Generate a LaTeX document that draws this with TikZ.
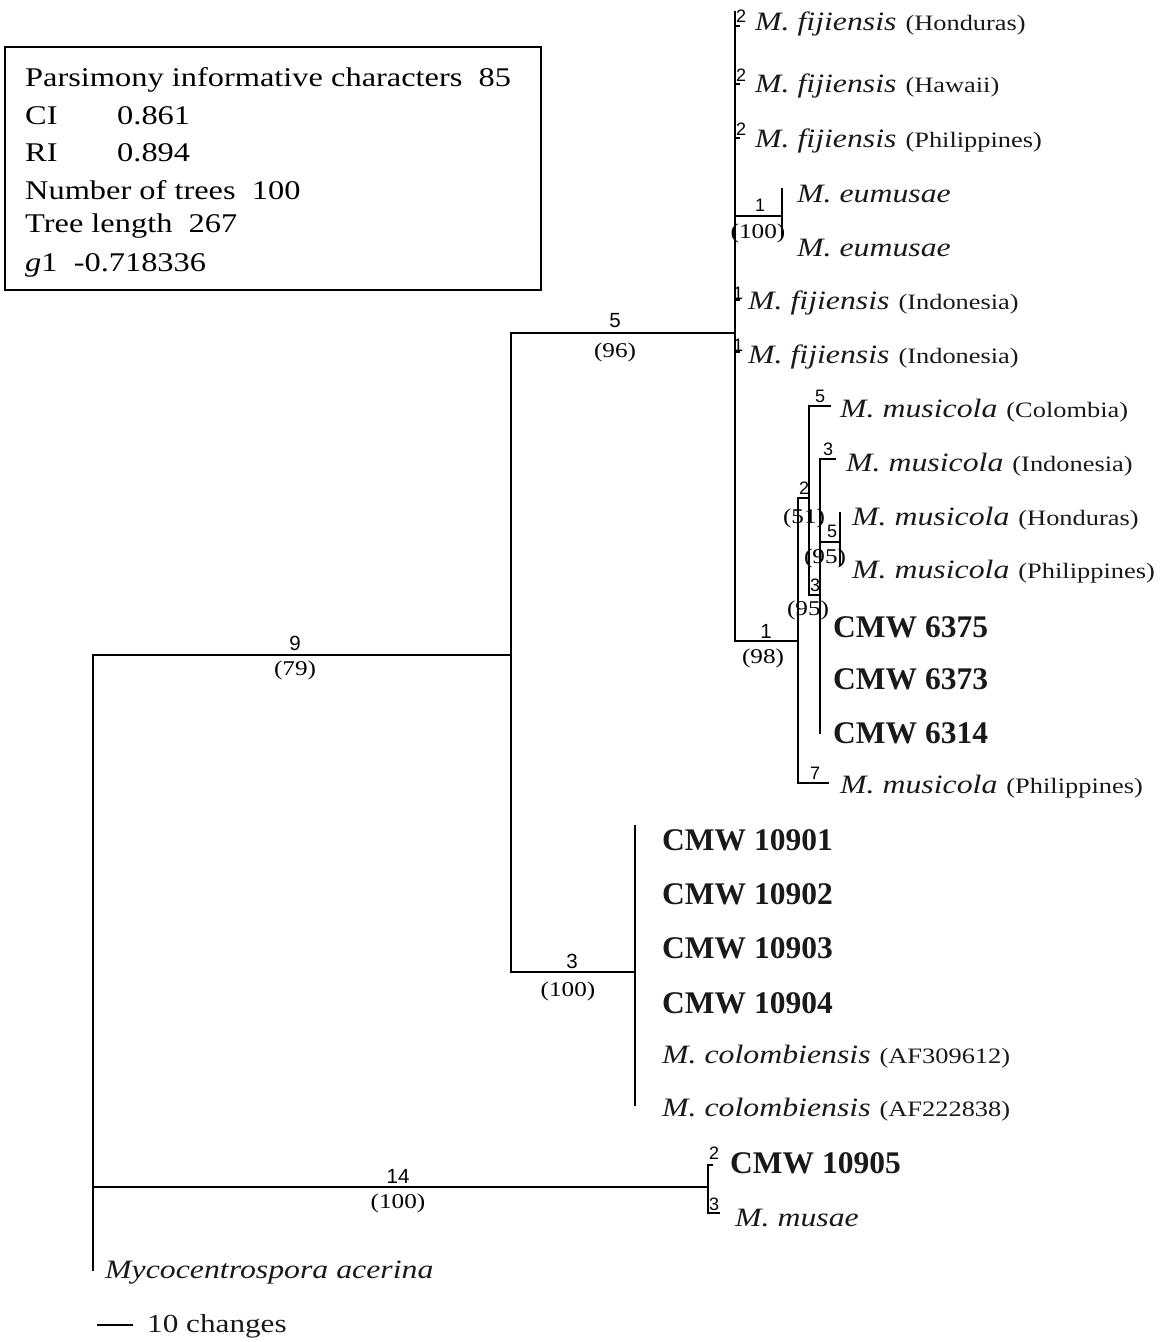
\documentclass[tikz,border=0pt]{standalone}
\usepackage{fontspec}
\setmainfont{Liberation Serif}
\newfontfamily\wide{Liberation Serif}[FakeStretch=1.2]
\newfontfamily\numf{Liberation Sans}
\newcommand\myspn[1]{{\wide\itshape\fontsize{26.5}{30}\selectfont #1}}
\newcommand\myloc[1]{\hspace{9pt}{\wide\fontsize{22}{26}\selectfont #1}}
\newcommand\mycmw[1]{{\bfseries\fontsize{31.5}{34}\selectfont #1}}
\tikzset{
  br/.style={line width=1.4pt, line cap=rect},
  lab/.style={anchor=west, inner sep=0pt, text=black!90},
  cnt/.style={inner sep=0pt, font=\numf\fontsize{20.5}{22}\selectfont},
  cnts/.style={inner sep=0pt, font=\numf\fontsize{18}{19}\selectfont},
  bs/.style={inner sep=0pt, font=\wide\fontsize{21}{23}\selectfont},
  boxt/.style={anchor=west, inner sep=0pt, font=\wide\fontsize{27}{30}\selectfont}
}
\begin{document}
\begin{tikzpicture}[x=1pt,y=-1pt]
\useasboundingbox[fill=white] (0,0) rectangle (1169,1342);

% ---------- info box ----------
\draw[line width=1.4pt] (5,47) rectangle (541,290);
\node[boxt] (b1) at (25,80) {Parsimony informative characters\ \ 85};
\node[boxt] (b2) at (25,116) {CI};
\node[boxt] (b2v) at (117,116) {0.861};
\node[boxt] (b3) at (25,153) {RI};
\node[boxt] (b3v) at (117,153) {0.894};
\node[boxt] (b4) at (25,190) {Number of trees\ \ 100};
\node[boxt] (b5) at (25,226) {Tree length\ \ 267};
\node[boxt] (b6) at (25,265) {\textit{g}1\ \ -0.718336};

% ---------- tree coordinates ----------
\coordinate (R1) at (93,655);
\coordinate (R2) at (93,1187);
\coordinate (Rout) at (93,1270);
\coordinate (G0) at (511,655);
\coordinate (G1) at (511,333);
\coordinate (G2) at (511,972);
\coordinate (F0) at (735,333);
\coordinate (Ftop) at (735,12);
\coordinate (Fbot) at (735,641);
\coordinate (H0) at (635,972);
\coordinate (Htop) at (635,826);
\coordinate (Hbot) at (635,1105);
\coordinate (M0) at (708,1187);
\coordinate (Mtop) at (708,1165);
\coordinate (Mbot) at (708,1213);

% root
\draw[br] (R1) -- (Rout);
\draw[br] (R1) -- (G0);
\draw[br] (R2) -- (M0);
% node G
\draw[br] (G1) -- (G2);
\draw[br] (G1) -- (F0);
\draw[br] (G2) -- (H0);
% colombiensis clade
\draw[br] (Htop) -- (Hbot);
% musae clade
\draw[br] (Mtop) -- (Mbot);
\draw[br] (Mtop) -- ++(4,0);
\draw[br] (Mbot) -- ++(11,0);

% fijiensis clade
\draw[br] (Ftop) -- (Fbot);
\coordinate (f1) at (735,26);
\coordinate (f2) at (735,84);
\coordinate (f3) at (735,138);
\coordinate (f4) at (735,300);
\coordinate (f5) at (735,352);
\foreach \c in {f1,f2,f3,f4,f5} \draw[br] (\c) -- ++(4,0);
% eumusae
\coordinate (E0) at (735,216);
\coordinate (E1) at (782,216);
\coordinate (Etop) at (782,189);
\coordinate (Ebot) at (782,236);
\draw[br] (E0) -- (E1);
\draw[br] (Etop) -- (Ebot);

% musicola clade
\coordinate (A0) at (735,641);
\coordinate (A1) at (798,641);
\coordinate (Atop) at (798,498);
\coordinate (Abot) at (798,783);
\coordinate (A7) at (828,783);
\draw[br] (A0) -- (A1);
\draw[br] (Atop) -- (Abot);
\draw[br] (Abot) -- (A7);
\coordinate (B0) at (809,498);
\coordinate (Btop) at (809,406);
\coordinate (Bbot) at (809,595);
\draw[br] (Atop) -- (B0);
\draw[br] (Btop) -- (Bbot);
\coordinate (B5) at (830,406);
\draw[br] (Btop) -- (B5);
\coordinate (C0) at (820,595);
\coordinate (Ctop) at (820,459);
\coordinate (Cbot) at (820,733);
\draw[br] (Bbot) -- (C0);
\draw[br] (Ctop) -- (Cbot);
\coordinate (C3) at (835,459);
\draw[br] (Ctop) -- (C3);
\coordinate (Cm) at (820,542);
\coordinate (D0) at (840,542);
\coordinate (Dtop) at (840,513);
\coordinate (Dbot) at (840,565);
\draw[br] (Cm) -- (D0);
\draw[br] (Dtop) -- (Dbot);

% ---------- branch labels ----------
\node[cnt] (n9) at (295,643) {9};
\node[bs] (s79) at (295,670) {(79)};
\node[cnt] (n5) at (615,321) {5};
\node[bs] (s96) at (615,352) {(96)};
\node[cnt] (n3) at (572,961) {3};
\node[bs] (s100a) at (568,991) {(100)};
\node[cnt] (n14) at (398,1176) {14};
\node[bs] (s100b) at (398,1203) {(100)};
\node[cnts] (m2) at (714,1153) {2};
\node[cnts] (m3) at (714,1204) {3};
\node[cnts] (fa) at (741,16) {2};
\node[cnts] (fb) at (741,75) {2};
\node[cnts] (fc) at (741,129) {2};
\node[cnts] (fd) at (738,293) {1};
\node[cnts] (fe) at (738,345) {1};
\node[cnts] (e1) at (760,205) {1};
\node[bs] (e100) at (758,233) {(100)};
\node[cnt] (a1) at (766,631) {1};
\node[bs] (a98) at (763,658) {(98)};
\node[cnts] (a7) at (815,773) {7};
\node[cnts] (b2n) at (804,488) {2};
\node[bs] (b51) at (804,518) {(51)};
\node[cnts] (b5n) at (820,396) {5};
\node[cnts] (c3n) at (815,585) {3};
\node[bs] (c95) at (808,610) {(95)};
\node[cnts] (c3t) at (828,449) {3};
\node[cnts] (d5n) at (832,531) {5};
\node[bs] (d95) at (825,558) {(95)};

% ---------- taxa ----------
\node[lab] (t1) at (755,24) {\myspn{M. fijiensis}\myloc{(Honduras)}};
\node[lab] (t2) at (755,86) {\myspn{M. fijiensis}\myloc{(Hawaii)}};
\node[lab] (t3) at (755,141) {\myspn{M. fijiensis}\myloc{(Philippines)}};
\node[lab] (t4) at (797,194) {\myspn{M. eumusae}};
\node[lab] (t5) at (797,248) {\myspn{M. eumusae}};
\node[lab] (t6) at (748,303) {\myspn{M. fijiensis}\myloc{(Indonesia)}};
\node[lab] (t7) at (748,357) {\myspn{M. fijiensis}\myloc{(Indonesia)}};
\node[lab] (t8) at (840,411) {\myspn{M. musicola}\myloc{(Colombia)}};
\node[lab] (t9) at (846,465) {\myspn{M. musicola}\myloc{(Indonesia)}};
\node[lab] (t10) at (852,519) {\myspn{M. musicola}\myloc{(Honduras)}};
\node[lab] (t11) at (852,572) {\myspn{M. musicola}\myloc{(Philippines)}};
\node[lab] (t12) at (833,627) {\mycmw{CMW 6375}};
\node[lab] (t13) at (833,679) {\mycmw{CMW 6373}};
\node[lab] (t14) at (833,733) {\mycmw{CMW 6314}};
\node[lab] (t15) at (840,787) {\myspn{M. musicola}\myloc{(Philippines)}};
\node[lab] (t16) at (662,840) {\mycmw{CMW 10901}};
\node[lab] (t17) at (662,894) {\mycmw{CMW 10902}};
\node[lab] (t18) at (662,948) {\mycmw{CMW 10903}};
\node[lab] (t19) at (662,1003) {\mycmw{CMW 10904}};
\node[lab] (t20) at (662,1057) {\myspn{M. colombiensis}\myloc{(AF309612)}};
\node[lab] (t21) at (662,1110) {\myspn{M. colombiensis}\myloc{(AF222838)}};
\node[lab] (t22) at (730,1163) {\mycmw{CMW 10905}};
\node[lab] (t23) at (735,1218) {\myspn{M. musae}};
\node[lab] (t24) at (105,1273) {\myspn{Mycocentrospora acerina}};

% ---------- scale bar ----------
\coordinate (sb1) at (97,1325);
\coordinate (sb2) at (133,1325);
\draw[line width=1.2pt] (sb1) -- (sb2);
\node[lab, font=\wide\fontsize{26}{28}\selectfont] (sbl) at (147,1326) {10 changes};
\end{tikzpicture}
\end{document}
